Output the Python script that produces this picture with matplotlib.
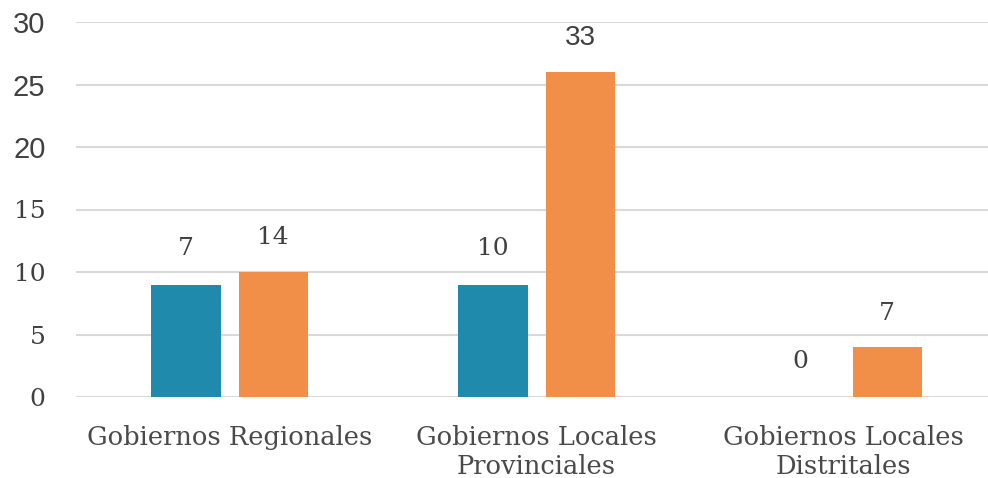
import matplotlib
matplotlib.use("Agg")
import matplotlib.pyplot as plt
import numpy as np

categories = ["Gobiernos Regionales", "Gobiernos Locales\nProvinciales", "Gobiernos Locales\nDistritales"]
blue_heights = [9, 9, 0]
orange_heights = [10, 26, 4]
blue_labels = ["7", "10", "0"]
orange_labels = ["14", "33", "7"]
yticks = [0, 5, 10, 15, 20, 25, 30]

BLUE = "#1f8aab"
ORANGE = "#f18f48"
TEXT = "#404040"
GRID = "#d9d9d9"
SERIF = ["DejaVu Serif"]
SANS = ["Liberation Sans"]

W, H = 988, 478
fig = plt.figure(figsize=(W / 100, H / 100), dpi=100)
ax = fig.add_axes([76 / W, (H - 397) / H, 921 / W, 375 / H])

x = np.arange(len(categories))
bw = 0.225
off = (bw + 18 / 307) / 2
ax.bar(x - off, blue_heights, bw, color=BLUE, zorder=3)
ax.bar(x + off, orange_heights, bw, color=ORANGE, zorder=3)

ax.set_xlim(-0.5, 2.5)
ax.set_ylim(0, 30)
ax.set_yticks(yticks)
ax.set_yticklabels([str(t) for t in yticks])
for t, lab in zip(yticks, ax.get_yticklabels()):
    lab.set_family(SANS if t >= 20 else SERIF)
    lab.set_fontsize(21 if t >= 20 else 18)
    lab.set_color(TEXT)
ax.tick_params(axis="y", length=0, pad=22)
ax.set_xticks(x)
ax.set_xticklabels(categories, family=SERIF, fontsize=18.5, color="#4a4a4a", linespacing=1.2)
ax.tick_params(axis="x", length=0, pad=20)

ax.grid(axis="y", color=GRID, linewidth=1.5, zorder=0)
for s in ax.spines.values():
    s.set_visible(False)

for xi, h, lab in zip(x - off, blue_heights, blue_labels):
    ax.annotate(lab, (xi, h), xytext=(0, 36), textcoords="offset pixels",
                ha="center", va="center", family=SERIF, fontsize=18, color=TEXT)
for xi, h, lab in zip(x + off, orange_heights, orange_labels):
    fam = SANS if lab == "33" else SERIF
    ax.annotate(lab, (xi, h), xytext=(0, 34), textcoords="offset pixels",
                ha="center", va="center", family=fam, fontsize=20 if lab == "33" else 18, color=TEXT)

fig.savefig("out.png", dpi=100)
